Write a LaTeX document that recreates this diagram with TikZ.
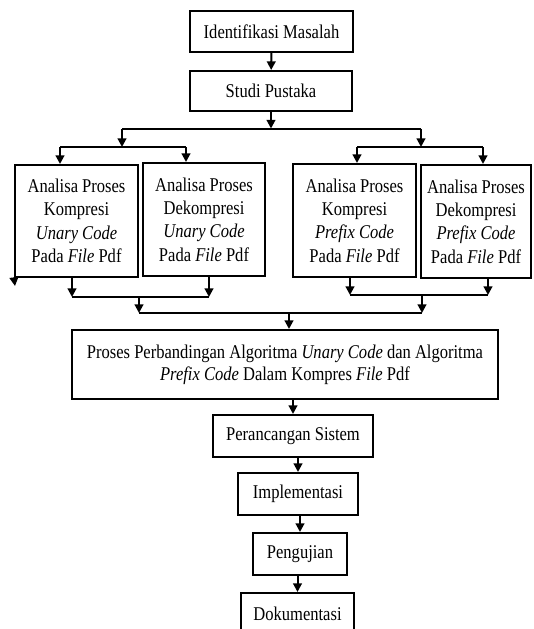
\documentclass[tikz,border=0pt]{standalone}
\usepackage{fontspec}
\setmainfont{Liberation Serif}[FakeStretch=0.85]
\usetikzlibrary{arrows.meta,positioning}

\begin{document}
\begin{tikzpicture}[x=0.75pt,y=-0.75pt,
  box/.style={draw,line width=1.5pt,inner sep=0pt,align=center,
    font=\fontsize{14.6}{17.5}\selectfont},
  ln/.style={line width=1.5pt},
  arr/.style={line width=1.5pt,-{Triangle[length=6.5pt,width=6.5pt]}}]
\useasboundingbox (0,0) rectangle (533,629);
\clip (0,0) rectangle (533,629);
% main column
\node[box,minimum width=122.25pt,minimum height=30.75pt] (identifikasi) at (271.5,31.5) {Identifikasi Masalah};
\node[box,minimum width=121.5pt,minimum height=30pt] (studi) at (271,91) {Studi Pustaka};
% the four analyses
\node[box,minimum width=92.25pt,minimum height=84pt] (kompunary) at (76.5,221)
  {Analisa Proses\\Kompresi\\\textit{Unary Code}\\Pada \textit{File} Pdf};
\node[box,minimum width=91.5pt,minimum height=84.75pt] (dekompunary) at (204,219.5)
  {Analisa Proses\\Dekompresi\\\textit{Unary Code}\\Pada \textit{File} Pdf};
\node[box,minimum width=92.25pt,minimum height=84.75pt] (kompprefix) at (354.5,220.5)
  {Analisa Proses\\Kompresi\\\textit{Prefix Code}\\Pada \textit{File} Pdf};
\node[box,minimum width=82.5pt,minimum height=84.75pt] (dekompprefix) at (476,221.5)
  {Analisa Proses\\Dekompresi\\\textit{Prefix Code}\\Pada \textit{File} Pdf};
\node[box,minimum width=319.5pt,minimum height=51.75pt,font=\fontsize{14.6}{16.5}\selectfont] (banding) at (285,364.5)
  {Proses Perbandingan Algoritma \textit{Unary Code} dan Algoritma\\\textit{Prefix Code} Dalam Kompres \textit{File} Pdf};
\node[box,minimum width=120pt,minimum height=31.5pt] (rancang) at (293,436) {Perancangan Sistem};
\node[box,minimum width=90pt,minimum height=31.5pt] (implementasi) at (298,494) {Implementasi};
\node[box,minimum width=70.5pt,minimum height=31.5pt] (uji) at (300,554) {Pengujian};
\node[box,minimum width=84.75pt,minimum height=31.5pt] (dokumentasi) at (297.5,614) {Dokumentasi};

% junctions
\coordinate (s1) at (122,128.5);
\coordinate (s2) at (421,128.5);
\coordinate (l0) at (122,147);
\coordinate (l1) at (60,147);
\coordinate (l2) at (186,147);
\coordinate (r0) at (421,147);
\coordinate (r1) at (357,147);
\coordinate (r2) at (483,147);
\coordinate (la) at (72,297);
\coordinate (lb) at (209,297);
\coordinate (lm) at (139,297);
\coordinate (ra) at (350,295);
\coordinate (rb) at (488,295);
\coordinate (rm) at (422,295);
\coordinate (m1) at (139,313);
\coordinate (m2) at (422,313);
\coordinate (mm) at (289,313);
\coordinate (stray) at (15,286);

\draw[arr] (identifikasi) -- (studi);
\draw[arr] (studi.south) -- (studi.south |- s1);
\draw[ln] (s1) -- (s2);
\draw[arr] (s1) -- (l0);
\draw[arr] (s2) -- (r0);
\draw[ln] (l1) -- (l2);
\draw[ln] (r1) -- (r2);
\draw[arr] (l1) -- (l1 |- kompunary.north);
\draw[arr] (l2) -- (l2 |- dekompunary.north);
\draw[arr] (r1) -- (r1 |- kompprefix.north);
\draw[arr] (r2) -- (r2 |- dekompprefix.north);

\draw[arr] (kompunary.south west) -- (stray);
\draw[arr] (la |- kompunary.south) -- (la);
\draw[arr] (lb |- dekompunary.south) -- (lb);
\draw[ln] (la) -- (lb);
\draw[arr] (ra |- kompprefix.south) -- (ra);
\draw[arr] (rb |- dekompprefix.south) -- (rb);
\draw[ln] (ra) -- (rb);
\draw[arr] (lm) -- (m1);
\draw[arr] (rm) -- (m2);
\draw[ln] (m1) -- (m2);
\draw[arr] (mm) -- (mm |- banding.north);

\draw[arr] (rancang.north |- banding.south) -- (rancang.north);
\draw[arr] (implementasi.north |- rancang.south) -- (implementasi.north);
\draw[arr] (uji.north |- implementasi.south) -- (uji.north);
\draw[arr] (dokumentasi.north |- uji.south) -- (dokumentasi.north);
\end{tikzpicture}
\end{document}
